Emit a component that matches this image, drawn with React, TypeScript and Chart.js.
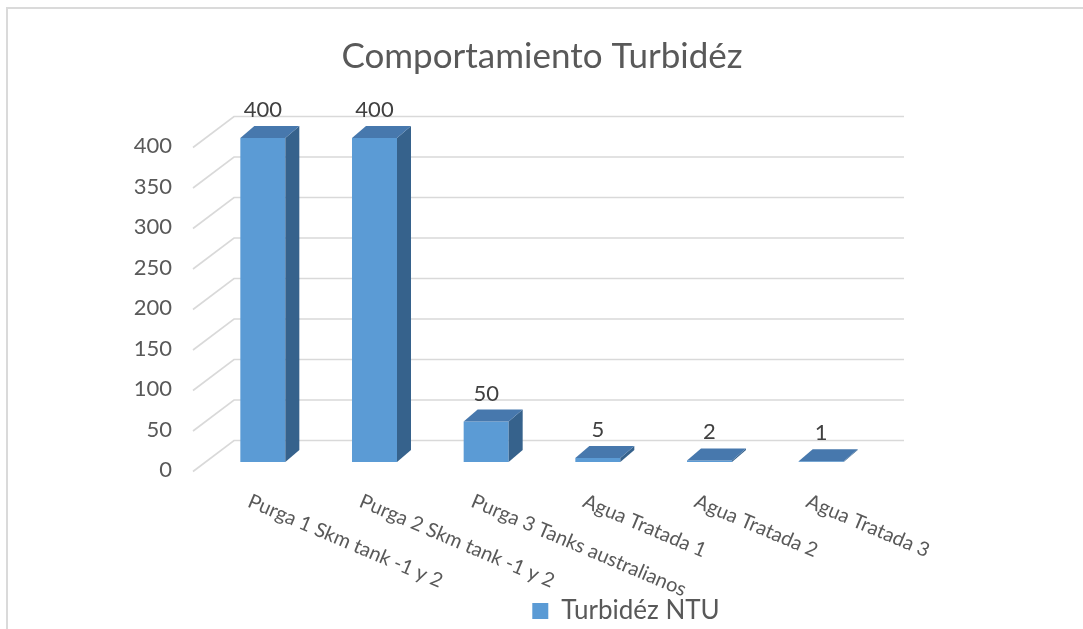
import React, { useEffect, useRef } from "react";
import { Chart, registerables } from "chart.js";

Chart.register(...registerables);

// ---- data ----
const chartTitle = "Comportamiento Turbidéz";
const categories = [
  "Purga 1 Skm tank -1 y 2",
  "Purga 2 Skm tank -1 y 2",
  "Purga 3 Tanks australianos",
  "Agua Tratada 1",
  "Agua Tratada 2",
  "Agua Tratada 3",
];
const seriesLabel = "Turbidéz NTU";
const turbidity = [400, 400, 50, 5, 2, 1];
const yMin = 0;
const yMax = 400;
const yStep = 50;

// ---- styles ----
const FONT = "Lato, 'Open Sans', sans-serif";
const TEXT = "#595959";
const LABEL = "#404040";
const FRONT = "#5B9BD5";
const TOP = "#4778AD";
const SIDE = "#36628C";
const GRID = "#D9D9D9";
const DEPTH_DX = 14;
const DEPTH_DY = -12;
const WALL_DX = 27;
const WALL_DY = -21.5;
const FLOOR_DX = -14;
const FLOOR_DY = 9.5;

const threeD = {
  id: "threeD",
  beforeDraw(chart: any) {
    const ctx = chart.ctx;
    ctx.save();
    ctx.fillStyle = "#ffffff";
    ctx.fillRect(0, 0, chart.width, chart.height);
    ctx.strokeStyle = "#DADADA";
    ctx.lineWidth = 2;
    ctx.beginPath();
    ctx.moveTo(7, chart.height);
    ctx.lineTo(7, 8);
    ctx.lineTo(chart.width, 8);
    ctx.stroke();
    ctx.restore();
  },
  beforeDatasetsDraw(chart: any) {
    const { ctx, chartArea } = chart;
    const y = chart.scales.y;
    ctx.save();
    ctx.strokeStyle = GRID;
    ctx.lineWidth = 1.6;
    y.ticks.forEach((t: any) => {
      const yf = y.getPixelForValue(t.value);
      const yb = yf + WALL_DY;
      ctx.beginPath();
      ctx.moveTo(chartArea.left + FLOOR_DX, yf + FLOOR_DY);
      ctx.lineTo(chartArea.left + WALL_DX, yb);
      ctx.lineTo(chartArea.right + WALL_DX, yb);
      ctx.stroke();
    });
    ctx.restore();
  },
  afterDatasetsDraw(chart: any) {
    const ctx = chart.ctx;
    const meta = chart.getDatasetMeta(0);
    const data = chart.data.datasets[0].data;
    ctx.save();
    meta.data.forEach((bar: any, i: number) => {
      const { x, y, base, width } = bar.getProps(["x", "y", "base", "width"], true);
      const l = x - width / 2;
      const r = x + width / 2;
      ctx.fillStyle = SIDE;
      ctx.beginPath();
      ctx.moveTo(r, y);
      ctx.lineTo(r + DEPTH_DX, y + DEPTH_DY);
      ctx.lineTo(r + DEPTH_DX, base + DEPTH_DY);
      ctx.lineTo(r, base);
      ctx.closePath();
      ctx.fill();
      ctx.fillStyle = TOP;
      ctx.beginPath();
      ctx.moveTo(l, y);
      ctx.lineTo(l + DEPTH_DX, y + DEPTH_DY);
      ctx.lineTo(r + DEPTH_DX, y + DEPTH_DY);
      ctx.lineTo(r, y);
      ctx.closePath();
      ctx.fill();
      ctx.fillStyle = LABEL;
      ctx.font = `22px ${FONT}`;
      ctx.textAlign = "center";
      ctx.textBaseline = "middle";
      ctx.fillText(String(data[i]), x, y + DEPTH_DY - 16);
    });
    ctx.restore();
  },
  afterDraw(chart: any) {
    const ctx = chart.ctx;
    const xs = chart.scales.x;
    ctx.save();
    ctx.fillStyle = TEXT;
    ctx.font = `20px ${FONT}`;
    ctx.textAlign = "left";
    ctx.textBaseline = "top";
    chart.data.labels.forEach((lab: string, i: number) => {
      const px = xs.getPixelForValue(i) - 10;
      ctx.save();
      ctx.translate(px, 491);
      ctx.rotate((23 * Math.PI) / 180);
      ctx.fillText(lab, 0, 0);
      ctx.restore();
    });
    ctx.restore();
  },
};

export default function App() {
  const ref = useRef<HTMLCanvasElement | null>(null);
  useEffect(() => {
    if (!ref.current) return;
    const chart = new Chart(ref.current, {
      type: "bar",
      data: {
        labels: categories,
        datasets: [
          {
            label: seriesLabel,
            data: turbidity,
            backgroundColor: FRONT,
            borderWidth: 0,
            barPercentage: 0.403,
            categoryPercentage: 1,
          },
        ],
      },
      options: {
        responsive: false,
        maintainAspectRatio: false,
        devicePixelRatio: 1,
        animation: false,
        layout: { padding: { left: 100, right: -69, top: 0, bottom: -5 } },
        plugins: {
          title: {
            display: true,
            text: chartTitle,
            fullSize: false,
            color: TEXT,
            font: { family: FONT, size: 35, weight: "normal" },
            padding: { top: 36, bottom: 60 },
          },
          legend: {
            position: "bottom",
            labels: {
              color: TEXT,
              font: { family: FONT, size: 26 },
              boxWidth: 16,
              boxHeight: 16,
              padding: 5,
            },
          },
          tooltip: { enabled: false },
        },
        scales: {
          x: {
            grid: { display: false },
            border: { display: false },
            ticks: { display: false },
            afterFit: (s: any) => {
              s.height = 131;
            },
          },
          y: {
            min: yMin,
            max: yMax,
            grid: { display: false, drawTicks: false },
            border: { display: false },
            ticks: {
              stepSize: yStep,
              padding: 35,
              labelOffset: 8,
              color: TEXT,
              font: { family: FONT, size: 22 },
            },
            afterFit: (s: any) => {
              s.width = 107;
            },
          },
          yR: {
            position: "right",
            grid: { display: false, drawTicks: false },
            border: { display: false },
            ticks: { display: false },
            afterFit: (s: any) => {
              s.width = 275;
            },
          },
        },
      },
      plugins: [threeD],
    });
    return () => chart.destroy();
  }, []);
  return (
    <div style={{ position: "fixed", left: 0, top: 0, width: 1083, height: 629 }}>
      <canvas ref={ref} width={1083} height={629} style={{ display: "block" }} />
    </div>
  );
}
